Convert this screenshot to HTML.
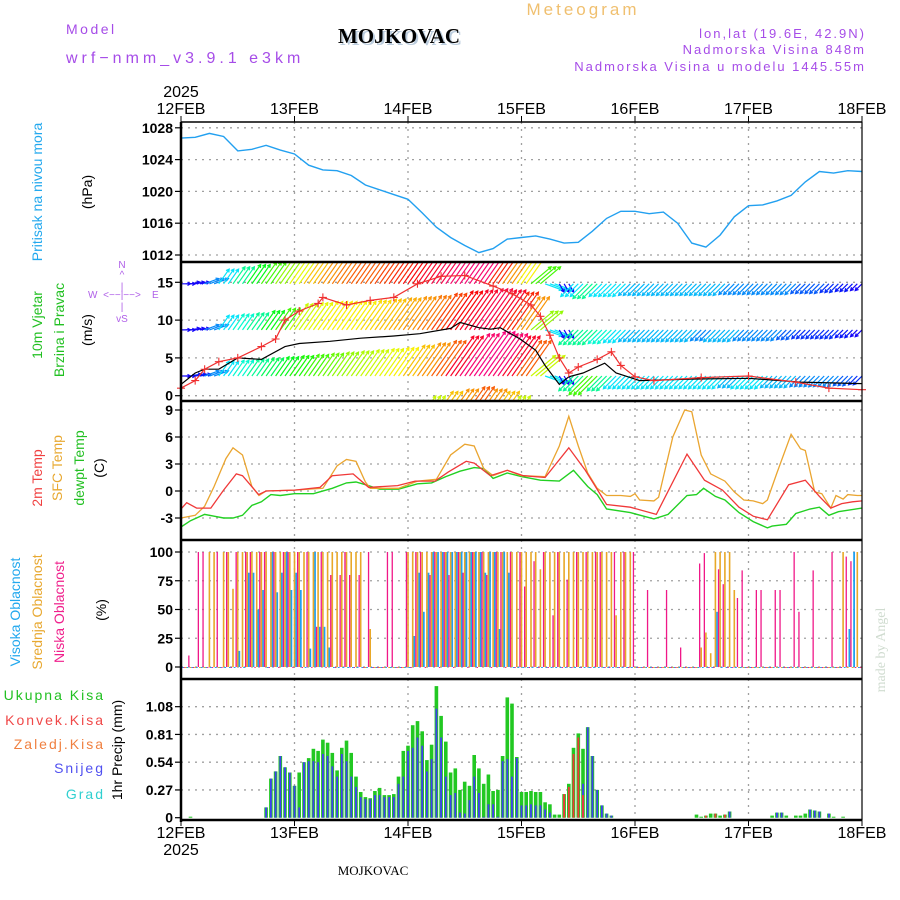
<!DOCTYPE html>
<html><head><meta charset="utf-8"><style>
html,body{margin:0;padding:0;background:#fff;}
svg{display:block;font-family:"Liberation Sans",sans-serif;}
</style></head><body>
<svg id="chart" width="900" height="900" viewBox="0 0 900 900" xmlns="http://www.w3.org/2000/svg">
<rect x="0" y="0" width="900" height="900" fill="#fff"/>
<g>
<text x="66" y="34" font-size="14" fill="#a64ce8" letter-spacing="2.5">Model</text>
<text x="66" y="63" font-size="16" fill="#a64ce8" letter-spacing="4">wrf−nmm_v3.9.1 e3km</text>
<text x="399" y="43" font-size="21" font-weight="bold" font-family="Liberation Serif,serif" text-anchor="middle" fill="#000" style="text-shadow:2px 2px 0 #bcd">MOJKOVAC</text>
<text x="583" y="15" font-size="17" fill="#f0c070" text-anchor="middle" letter-spacing="3">Meteogram</text>
<text x="866" y="38" font-size="13" fill="#a64ce8" text-anchor="end" letter-spacing="2">lon,lat (19.6E, 42.9N)</text>
<text x="866" y="54" font-size="13" fill="#a64ce8" text-anchor="end" letter-spacing="2">Nadmorska Visina 848m</text>
<text x="866" y="71" font-size="13" fill="#a64ce8" text-anchor="end" letter-spacing="2">Nadmorska Visina u modelu 1445.55m</text>
<text x="181" y="97" font-size="16" text-anchor="middle">2025</text>
<text x="181" y="855" font-size="16" text-anchor="middle">2025</text>
<text x="373" y="875" font-size="13" font-family="Liberation Serif,serif" text-anchor="middle">MOJKOVAC</text>
<text transform="translate(885,650) rotate(-90)" font-size="14" font-family="Liberation Serif,serif" fill="#d0dcd0" text-anchor="middle">made by Angel</text>
</g>
<g>
<text transform="translate(42,192) rotate(-90)" font-size="14" fill="#22a8ee" text-anchor="middle">Pritisak na nivou mora</text>
<text transform="translate(92,192) rotate(-90)" font-size="14" text-anchor="middle">(hPa)</text>
<text transform="translate(42,325) rotate(-90)" font-size="14" fill="#22c022" text-anchor="middle">10m Vjetar</text>
<text transform="translate(64,330) rotate(-90)" font-size="14" fill="#22c022" text-anchor="middle">Brzina i Pravac</text>
<text transform="translate(92,330) rotate(-90)" font-size="14" text-anchor="middle">(m/s)</text>
<g fill="#b060e8" font-size="10">
<text x="122" y="268" text-anchor="middle">N</text><text x="122" y="278" text-anchor="middle">^</text>
<text x="122" y="290" text-anchor="middle">|</text><text x="122" y="298" text-anchor="middle">&lt;−−|−−&gt;</text>
<text x="88" y="298">W</text><text x="152" y="298">E</text>
<text x="122" y="310" text-anchor="middle">|</text><text x="122" y="322" text-anchor="middle">vS</text>
</g>
<text transform="translate(42,478) rotate(-90)" font-size="14" fill="#f04040" text-anchor="middle">2m Temp</text>
<text transform="translate(62,468) rotate(-90)" font-size="14" fill="#e8a830" text-anchor="middle">SFC Temp</text>
<text transform="translate(84,468) rotate(-90)" font-size="14" fill="#22c022" text-anchor="middle">dewpt Temp</text>
<text transform="translate(104,468) rotate(-90)" font-size="14" text-anchor="middle">(C)</text>
<text transform="translate(20,612) rotate(-90)" font-size="14" fill="#22a8ee" text-anchor="middle">Visoka Oblacnost</text>
<text transform="translate(42,612) rotate(-90)" font-size="14" fill="#e8a830" text-anchor="middle">Srednja Oblacnost</text>
<text transform="translate(64,612) rotate(-90)" font-size="14" fill="#f0208c" text-anchor="middle">Niska Oblacnost</text>
<text transform="translate(106,610) rotate(-90)" font-size="14" text-anchor="middle">(%)</text>
<g font-size="14" text-anchor="end" letter-spacing="2">
<text x="105" y="700" fill="#22c022">Ukupna Kisa</text>
<text x="105" y="725" fill="#f04848">Konvek.Kisa</text>
<text x="105" y="749" fill="#f08040">Zaledj.Kisa</text>
<text x="105" y="773" fill="#5050f0">Snijeg</text>
<text x="105" y="799" fill="#30d0d0">Grad</text>
</g>
<text transform="translate(122,750) rotate(-90)" font-size="14" text-anchor="middle">1hr Precip (mm)</text>
</g>
<g id="plot"></g>
</svg>
<script>
// ---------- data ----------
const dayLabels = ["12FEB","13FEB","14FEB","15FEB","16FEB","17FEB","18FEB"];
const pressHours = [0,3,6,9,12,15,18,21,24,27,30,33,36,39,42,45,48,51,54,57,60,63,66,69,72,75,78,81,84,87,90,93,96,99,102,105,108,111,114,117,120,123,126,129,132,135,138,141,144];
const pressure = [1026.7,1026.8,1027.3,1026.9,1025.1,1025.3,1025.8,1025.2,1024.7,1023.3,1022.7,1022.6,1022.0,1020.8,1020.2,1019.6,1019.0,1017.3,1015.5,1014.2,1013.2,1012.3,1012.8,1014.0,1014.2,1014.4,1014.0,1013.5,1013.6,1015.0,1016.6,1017.5,1017.5,1017.2,1017.4,1016.0,1013.5,1013.0,1014.5,1016.8,1018.2,1018.3,1018.8,1019.5,1021.2,1022.5,1022.3,1022.6,1022.5];
const pressTicks = [1012,1016,1020,1024,1028];

const windHours = pressHours;
const windLow = [2,2.5,4,5,5.5,6,6.5,7,7.5,8,8.5,9,9.5,10,10.5,11,12,13,14,16,17,18,17,16,14,10,5,2,6,8,6,5,5,5,5,5,5,5,5,4.5,5,5,4.5,4.5,4,4,4,3.5,3];
const windMid = [2,2,4,5,5.5,6,7,8,10,10.5,11,11,11,11.5,12,12.5,13,13.5,14.5,15.5,16,16.5,16,15,13,9,5,2,6,6,5.5,5,4.5,4.5,4.5,4.5,4.5,4,4.5,4.5,4,4,4,3.5,3,3,3,2.5,2];
const windTop = [2,2,4,5,6,7,8,9,10.5,12,13,13.5,14,14,14.5,15,15.5,16,16.5,17,17.5,17,15,13,11,8,5,2,5,6,5,5,4.5,4.5,4.5,4.5,4.5,4.5,4.5,4,4,4,4,4,3.5,3.5,3,2.5,2];
const windBottom = [0,0,0,0,0,0,0,0,0,0,0,0,0,0,0,0,8,10,12,13,14,13,12,10,8,0,0,0,0,0,0,0,0,0,0,0,0,0,0,0,0,0,0,0,0,0,0,0,0];
const windDir = [270,260,250,215,215,215,215,215,215,215,215,215,215,215,215,215,215,215,215,215,215,215,215,215,215,230,290,330,45,45,45,45,45,45,45,45,45,45,45,45,45,45,45,45,45,45,45,45,45];
const windSpeedHours = [0,3,5,8,12,17,22,25,31.5,38,45,50.5,57,59,63,65.5,67.5,71.7,75,77,80,82,85,89.6,92,97,107.6,120,131,144];
const windSpeed = [1.5,3.0,3.5,3.5,5.0,4.8,6.5,6.9,7.2,7.6,7.9,8.2,8.9,9.7,9.0,8.8,9.0,7.5,6.0,4.0,1.5,2.5,3.0,4.3,3.0,2.0,2.2,2.3,1.8,1.6];
const gustHours = [0,3,5,8,12,17,20,22,25,29,30,35,40,45,50,55,60,66,70,74,76,78,80,82,84,88,91,93,96,100,110,120,130,137,144];
const gust = [1.0,2.0,3.5,4.5,5.0,6.5,7.5,10,11.2,12.2,13.0,12.0,12.6,13.0,14.8,15.8,15.9,14.5,13.5,12.0,10.5,8.0,5.0,3.0,3.8,4.8,5.8,4.0,2.5,2.0,2.4,2.6,1.8,1.0,0.8];
const windTicks = [0,5,10,15];

const t2Hours = [0,1.2,3.3,6.3,9,11.7,13,16.4,18,24,29.4,32,36.4,39.7,45.8,49.5,53.7,56.5,60.3,62,65.4,69,72.4,77,82,85.5,90,95,100.5,107,110.7,114.5,118,121,124,128.5,132,135,137.4,139.7,142,144];
const t2 = [-2.0,-1.3,-1.9,-1.9,0.1,1.9,1.7,-0.4,0,0.1,0.4,1.7,1.9,0.4,0.6,1.1,1.1,2.1,3.3,3.1,1.7,2.3,1.7,1.5,4.8,2.3,-1.5,-1.8,-2.6,4.1,1.2,0.1,-1.8,-2.8,-3.2,0.7,1.2,-0.6,-1.9,-1.4,-1.2,-1.1];
const sfcHours = [0,3,5,7,9.5,11,13,15,16.5,18,24,30,33,35,37,39,40,46,50,54,57,60,62,64,66,69,72,77,80,82,84,86,88,90,93,95,96,97,100,101,104,106.5,108,110,112,115,117,119,121,123,124,126,129,131,132,134,135.5,137.4,138.5,140,141,143,144];
const sfc = [-3.0,-2.7,-1.7,0.5,3.6,4.8,4.0,0.5,-0.5,0,0.1,0.3,2.8,3.5,3.3,1.0,0.3,0.3,1.1,1.3,4.0,5.2,5.0,2.5,1.7,2.3,1.7,1.6,5.0,8.3,5.0,2.0,0.3,-0.5,-0.5,-0.6,-0.3,-1.0,-1.1,-0.7,6.0,9.0,8.8,4.0,1.9,1.1,-0.1,-1.0,-1.1,-1.4,-1.0,2.0,6.3,4.7,4.5,-0.1,-0.3,-1.9,-0.5,-0.9,-0.4,-0.5,-0.5];
const dewHours = [0,2,5,7,9,11,13,15,17,19,21,24,28,32,35,37,39,42,46,50,53,56,59,62,64,66,69,72,76,80,83,86,88,90,95,100,103,107,109,110.5,113,115,118,121,124,125,128,130,133,135,137,139,144];
const dew = [-4.0,-3.3,-2.6,-2.8,-3.0,-3.0,-2.7,-1.6,-1.2,-0.4,-0.5,-0.3,-0.3,0.3,0.9,1.0,0.7,0.2,0.2,0.8,0.9,1.6,2.2,2.6,2.5,1.4,2.0,1.6,1.2,1.1,2.3,0.5,-0.4,-2.0,-2.4,-3.1,-2.6,-0.5,-0.4,0.3,-0.6,-1.0,-2.4,-3.4,-4.1,-3.9,-3.7,-2.5,-2.0,-1.8,-2.7,-2.3,-1.9];
const tempTicks = [-3,0,3,6,9];

const cloudLow = [0,0,10,0,100,100,0,0,100,0, 100,0,100,0,100,100,0,100,100,0, 100,0,100,100,0,100,0,100,0,35, 100,0,80,0,80,100,80,0,80,0, 100,0,0,0,100,100,0,0,100,0, 100,100,0,80,100,0,100,80,0,100, 82,0,100,0,100,80,0,100,100,0, 100,0,100,70,0,92,0,100,0,45, 100,0,76,0,100,0,100,0,100,100, 0,0,100,0,100,0,100,0,0,67, 0,0,0,67,0,0,17,0,0,0, 90,99,0,0,85,72,0,0,60,84, 0,0,67,67,0,0,67,67,0,0, 100,48,0,0,84,0,0,0,100,0, 0,96,92,0,0];
const cloudMid = [0,0,0,0,0,0,100,100,0,100, 100,68,100,100,100,100,100,100,100,100, 100,100,100,100,100,100,100,100,100,100, 100,100,100,100,100,100,100,100,100,0, 33,0,0,0,0,0,0,0,100,100, 100,100,100,100,100,100,100,100,100,100, 100,100,100,100,100,100,100,100,100,100, 100,100,100,100,100,100,85,100,100,100, 100,100,100,100,100,100,100,100,100,100, 100,100,45,100,100,100,0,0,0,0, 0,0,0,0,0,0,0,0,0,0, 17,30,12,100,100,100,100,67,0,0, 0,0,0,0,0,0,0,0,0,0, 0,0,0,0,0,0,0,0,0,0, 100,0,0,100,0];
const cloudHigh = [0,0,0,0,0,0,0,0,0,0, 0,0,14,0,82,82,50,67,0,100, 65,82,100,67,82,67,0,16,100,35, 35,17,0,0,0,0,0,0,0,0, 0,0,0,0,0,0,0,0,0,27, 82,48,82,100,100,100,100,100,100,100, 100,100,100,100,82,100,100,33,100,82, 0,0,0,0,0,0,0,0,0,0, 0,0,0,0,0,0,0,0,0,0, 0,0,0,0,0,0,0,0,0,0, 0,0,0,0,0,0,0,0,0,0, 0,0,0,48,0,0,0,0,0,0, 0,0,0,0,0,0,0,0,0,0, 0,0,0,0,0,0,0,0,0,0, 0,33,100,0,17];
const cloudTicks = [0,25,50,75,100];

const precipTotal = [0,0,0.01,0,0,0,0,0,0,0, 0,0,0,0,0,0,0,0, 0.10,0.38,0.45,0.60,0.49,0.44,0.31,0.44,0.54,0.58, 0.67,0.65,0.76,0.73,0.63,0.46,0.68,0.75,0.63,0.40, 0.25,0.20,0.19,0.26,0.29,0.22,0.22,0.23,0.40,0.65,0.70, 0.90,0.94,0.84,0.56,0.71,1.28,0.99,0.74,0.44,0.48, 0.27,0.35,0.31,0.61,0.48,0.33,0.42,0.26,0.27,0.60, 1.17,1.11,0.59,0.25,0.25,0.26,0.25,0.25,0.15,0.13, 0.03,0.03,0.23,0.33,0.68,0.82,0.67,0.88,0.60,0.27, 0.12,0.04,0.02, 0,0,0,0,0,0,0,0, 0,0,0,0,0,0,0,0, 0,0.03,0.01,0.02,0.04,0.04,0.02,0.03,0.06, 0,0,0,0,0,0,0,0, 0.02,0.05,0.05,0.02,0,0.02,0.02,0.04,0.08,0.07,0.06,0,0.04,0.01,0,0.01];
const precipSnow = [0,0,0,0,0,0,0,0,0,0, 0,0,0,0,0,0,0,0, 0.10,0.38,0.45,0.60,0.49,0.44,0.31,0.10,0.54,0.55, 0.55,0.54,0.62,0.60,0.50,0.40,0.62,0.55,0.40,0.30, 0.20,0.18,0.18,0.22,0.22,0.20,0.20,0.20,0.33,0.40,0.65, 0.68,0.78,0.70,0.45,0.57,1.06,0.78,0.40,0.22,0.24, 0.05,0.04,0.17,0.40,0.24,0.01,0.13,0.13,0.01,0.55, 0.57,0.40,0.58,0.12,0.12,0.13,0.12,0.12,0.08,0.05, 0,0,0,0,0,0,0.33,0.88,0.60,0.27, 0.12,0.04,0.02, 0,0,0,0,0,0,0,0, 0,0,0,0,0,0,0,0, 0,0,0,0,0,0,0,0,0.06, 0,0,0,0,0,0,0,0, 0,0.05,0.05,0,0,0,0,0,0.08,0.07,0.06,0,0.04,0,0,0];
const precipConv = [0,0,0,0,0,0,0,0,0,0, 0,0,0,0,0,0,0,0, 0,0,0,0,0,0,0,0,0,0, 0,0,0,0,0,0,0,0,0,0, 0,0,0,0,0,0,0,0,0,0,0, 0,0,0,0,0,0,0,0,0,0, 0,0,0,0,0,0,0,0,0,0, 0,0,0,0,0,0,0,0,0,0, 0,0,0.23,0.30,0.62,0.78,0.22,0,0,0, 0,0,0, 0,0,0,0,0,0,0,0, 0,0,0,0,0,0,0,0, 0,0,0,0.02,0,0.04,0,0.03,0, 0,0,0,0,0,0,0,0, 0,0,0,0,0,0,0,0,0,0,0,0,0,0,0,0];
const precipTicks = ["0","0.27","0.54","0.81","1.08"];

// ---------- drawing ----------
const NS="http://www.w3.org/2000/svg";
const plot=document.getElementById('plot');
function mk(tag,attrs,parent){const e=document.createElementNS(NS,tag);for(const k in attrs)e.setAttribute(k,attrs[k]);(parent||plot).appendChild(e);return e;}
const X0=181,X1=862;
const xH=h=>X0+h*(X1-X0)/144;
const yP=p=>255-(p-1012)*7.95;
const yW=s=>395.7-s*7.56;
const yT=t=>491-t*9;
const yC=c=>667-c*1.15;
const yR=v=>817.7-v*102.8;
const panels=[[122,262],[262,401],[401,540],[540,679],[679,820]];

const defs=mk('defs',{});
panels.forEach((p,i)=>{const c=mk('clipPath',{id:'clip'+i},defs);mk('rect',{x:X0,y:p[0],width:X1-X0,height:p[1]-p[0]},c);});

const grid=mk('g',{stroke:'#a0a0a0','stroke-width':1.3,'stroke-dasharray':'2,5'});


panels.forEach(p=>{for(let d=1;d<6;d++){mk('line',{x1:xH(d*24),x2:xH(d*24),y1:p[0],y2:p[1]},grid);}});
function hgrid(vals,fy){vals.forEach(v=>mk('line',{x1:X0,x2:X1,y1:fy(v),y2:fy(v)},grid));}
hgrid(pressTicks,yP);hgrid(windTicks,yW);hgrid(tempTicks,yT);hgrid(cloudTicks,yC);hgrid([0.27,0.54,0.81,1.08],yR);

function line(hs,vs,fy,color,w,clip,name){
  const d=hs.map((h,i)=>(i?'L':'M')+xH(h).toFixed(1)+','+fy(vs[i]).toFixed(1)).join('');
  const e=mk('path',{d:d,fill:'none',stroke:color,'stroke-width':w,'clip-path':'url(#clip'+clip+')'});
  
  
  return e;
}
line(pressHours,pressure,yP,'#22a0f0',1.4,0,'pressure-line');

function speedColor(s){
  const stops=[[0,270],[3,230],[5,185],[7,125],[9,85],[11,58],[13,35],[15,8],[17,-25],[20,-40]];
  let hue=stops[stops.length-1][1];
  for(let i=0;i<stops.length-1;i++){if(s>=stops[i][0]&&s<stops[i+1][0]){const f=(s-stops[i][0])/(stops[i+1][0]-stops[i][0]);hue=stops[i][1]+f*(stops[i+1][1]-stops[i][1]);break;}}
  return 'hsl('+((hue+360)%360)+',95%,50%)';
}
const wg=mk('g',{'clip-path':'url(#clip1)','stroke-width':1.2,fill:'none'});


const levels=[[windBottom,-3.5],[windLow,2.6],[windMid,8.7],[windTop,14.8]];
levels.forEach(([arr,base])=>{
  for(let h=0;h<=144;h++){
    const i=Math.round(h/3);const s=arr[i];if(!s)continue;
    const to=(windDir[i]+180)*Math.PI/180;
    const L=s*2.8+4;
    const x0=xH(h),y0=yW(base);
    const x1=x0+Math.sin(to)*L,y1=y0-Math.cos(to)*L;
    const c=speedColor(s);
    const a=Math.atan2(y1-y0,x1-x0);
    const hd=`M${x0.toFixed(1)},${y0.toFixed(1)}L${x1.toFixed(1)},${y1.toFixed(1)}M${(x1-3.5*Math.cos(a-0.5)).toFixed(1)},${(y1-3.5*Math.sin(a-0.5)).toFixed(1)}L${x1.toFixed(1)},${y1.toFixed(1)}L${(x1-3.5*Math.cos(a+0.5)).toFixed(1)},${(y1-3.5*Math.sin(a+0.5)).toFixed(1)}`;
    const e=mk('path',{d:hd,stroke:c},wg);
    
    
  }
});
line(windSpeedHours,windSpeed,yW,'#000',1.2,1,'wind-speed-line');
line(gustHours,gust,yW,'#f03030',1.2,1,'wind-gust-line');
const gm=mk('g',{stroke:'#f03030','stroke-width':1.1});


gustHours.forEach((h,i)=>{const x=xH(h),y=yW(gust[i]);const e=mk('path',{d:`M${x-4},${y}L${x+4},${y}M${x},${y-4}L${x},${y+4}`},gm);});

line(dewHours,dew,yT,'#22d022',1.4,2,'dewpoint-line');
line(sfcHours,sfc,yT,'#eaa530',1.3,2,'sfc-temp-line');
line(t2Hours,t2,yT,'#f03838',1.3,2,'temp-2m-line');

const cg=mk('g',{'clip-path':'url(#clip3)'});


function cloudBar(arr,off,color,w,name){
  arr.forEach((v,h)=>{const x=xH(h)+off;const e=mk('rect',{x:(x-w/2).toFixed(1),y:yC(v).toFixed(1),width:w,height:Math.max(1,(yC(0)-yC(v))).toFixed(1),fill:color},cg);});
}
cloudBar(cloudHigh,1.6,'#20a0f0',1.8,'high-cloud-bar');
cloudBar(cloudMid,0,'#e8a828',1.6,'mid-cloud-bar');
cloudBar(cloudLow,-1.6,'#f01888',1.3,'low-cloud-bar');

const pg=mk('g',{'clip-path':'url(#clip4)'});


function pBar(arr,w,color,name){
  arr.forEach((v,h)=>{if(!v)return;const x=xH(h);const e=mk('rect',{x:(x-w/2).toFixed(1),y:yR(v).toFixed(1),width:w,height:(yR(0)-yR(v)).toFixed(1),fill:color},pg);});
}
pBar(precipTotal,3.6,'#22c822','total-precip-bar');
pBar(precipSnow,1.8,'#4040f0','snow-bar');
pBar(precipConv,1.8,'#f03838','convective-bar');

const fr=mk('g',{stroke:'#000',fill:'none'});


mk('line',{x1:X0,x2:X0,y1:122,y2:822,'stroke-width':2.5},fr);
mk('line',{x1:X1,x2:X1,y1:122,y2:820,'stroke-width':1.2},fr);
mk('line',{x1:X0,x2:X1,y1:122,y2:122,'stroke-width':1.5},fr);
panels.forEach(p=>mk('line',{x1:X0,x2:X1,y1:p[1],y2:p[1],'stroke-width':2.5},fr));
const dayG=mk('g',{'font-size':16,'text-anchor':'middle',fill:'#000'});
dayLabels.forEach((lab,d)=>{
  const x=xH(d*24);
  mk('line',{x1:x,x2:x,y1:116,y2:122,stroke:'#000'},dayG);
  mk('line',{x1:x,x2:x,y1:820,y2:826,stroke:'#000'},dayG);
  const t1=mk('text',{x:x,y:114},dayG);t1.textContent=lab;
  
  
  const t2e=mk('text',{x:x,y:838},dayG);t2e.textContent=lab;
  
  
});
const tg=mk('g',{'font-size':14,'font-weight':'bold','text-anchor':'end',fill:'#000'});


function ticks(vals,fy,labels){vals.forEach((v,i)=>{const y=fy(v);mk('line',{x1:X0-6,x2:X0,y1:y,y2:y,stroke:'#000','stroke-width':1.2},tg);const t=mk('text',{x:X0-8,y:y+5},tg);t.textContent=labels?labels[i]:v;});}
ticks(pressTicks,yP);ticks(windTicks,yW);ticks(tempTicks,yT);ticks(cloudTicks,yC);
ticks(precipTicks.map(Number),yR,precipTicks);
</script>
</body></html>
